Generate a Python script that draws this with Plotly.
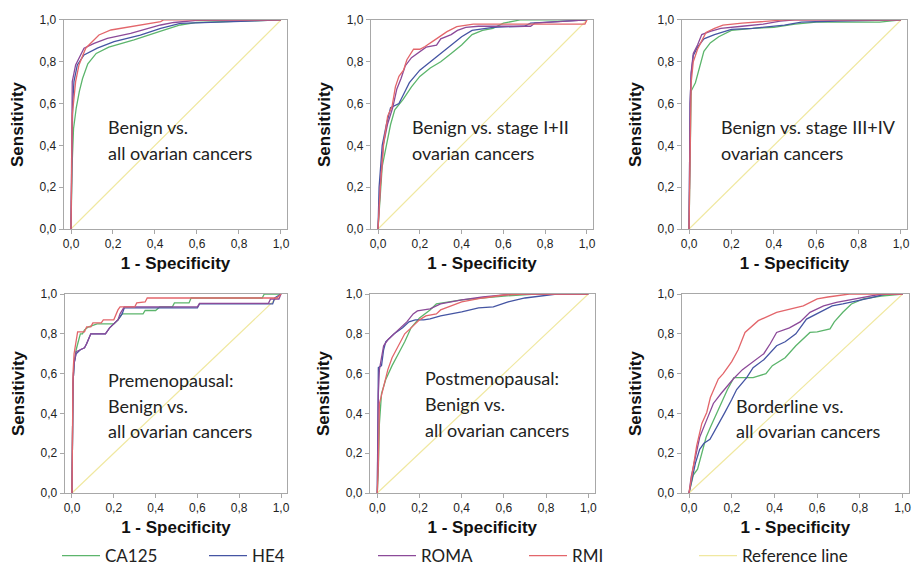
import plotly.graph_objects as go

# ---------------- data ----------------
SERIES = ["CA125", "HE4", "ROMA", "RMI"]
COLORS = {"CA125": "#5cb56c", "HE4": "#4555a3", "ROMA": "#8c4a99", "RMI": "#e3666b"}
REF_COLOR = "#f0e8a0"
REF_X = [0, 1]
REF_Y = [0, 1]
TICK_VALS = [0, 0.2, 0.4, 0.6, 0.8, 1.0]
TICK_TEXT = ["0,0", "0,2", "0,4", "0,6", "0,8", "1,0"]

PANEL_TEXT = [
    ["Benign vs.", "all ovarian cancers"],
    ["Benign vs. stage I+II", "ovarian cancers"],
    ["Benign vs. stage III+IV", "ovarian cancers"],
    ["Premenopausal:", "Benign vs.", "all ovarian cancers"],
    ["Postmenopausal:", "Benign vs.", "all ovarian cancers"],
    ["Borderline vs.", "all ovarian cancers"],
]

# Panel 1: Benign vs. all ovarian cancers
p1_ca125_x = [0, 0.005, 0.012, 0.025, 0.04, 0.055, 0.08, 0.12, 0.18, 0.3, 0.42, 0.52, 0.6, 0.8, 1.0]
p1_ca125_y = [0, 0.3, 0.48, 0.58, 0.66, 0.72, 0.79, 0.84, 0.87, 0.905, 0.944, 0.976, 0.988, 0.995, 1.0]
p1_he4_x = [0, 0.004, 0.008, 0.014, 0.03, 0.062, 0.125, 0.205, 0.33, 0.427, 0.52, 0.7, 1.0]
p1_he4_y = [0, 0.4, 0.6, 0.705, 0.785, 0.833, 0.865, 0.896, 0.928, 0.96, 0.984, 0.99, 1.0]
p1_roma_x = [0, 0.004, 0.006, 0.022, 0.062, 0.11, 0.173, 0.284, 0.364, 0.427, 0.49, 0.6, 1.0]
p1_roma_y = [0, 0.45, 0.705, 0.785, 0.865, 0.888, 0.912, 0.936, 0.96, 0.976, 0.988, 0.998, 1.0]
p1_rmi_x = [0, 0.005, 0.006, 0.022, 0.038, 0.07, 0.1, 0.133, 0.19, 0.284, 0.364, 0.427, 0.44, 1.0]
p1_rmi_y = [0, 0.3, 0.545, 0.705, 0.785, 0.865, 0.896, 0.928, 0.952, 0.968, 0.984, 0.992, 1.0, 1.0]

# Panel 2: Benign vs. stage I+II
p2_ca125_x = [0, 0.01, 0.02, 0.04, 0.06, 0.08, 0.12, 0.16, 0.2, 0.25, 0.3, 0.35, 0.4, 0.45, 0.5, 0.55, 0.6, 0.68, 1.0]
p2_ca125_y = [0, 0.15, 0.3, 0.4, 0.5, 0.57, 0.62, 0.68, 0.73, 0.77, 0.8, 0.84, 0.88, 0.93, 0.95, 0.96, 0.985, 1.0, 1.0]
p2_he4_x = [0, 0.005, 0.02, 0.04, 0.06, 0.1, 0.12, 0.15, 0.2, 0.25, 0.3, 0.35, 0.4, 0.45, 0.55, 0.7, 0.73, 1.0]
p2_he4_y = [0, 0.2, 0.4, 0.5, 0.58, 0.6, 0.64, 0.7, 0.76, 0.8, 0.84, 0.88, 0.92, 0.95, 0.965, 0.97, 0.985, 1.0]
p2_roma_x = [0, 0.01, 0.025, 0.045, 0.07, 0.09, 0.11, 0.13, 0.16, 0.2, 0.23, 0.28, 0.3, 0.35, 0.38, 0.42, 0.48, 0.73, 0.75, 1.0]
p2_roma_y = [0, 0.2, 0.4, 0.5, 0.58, 0.67, 0.72, 0.78, 0.82, 0.85, 0.87, 0.88, 0.91, 0.93, 0.95, 0.965, 0.97, 0.97, 0.985, 1.0]
p2_rmi_x = [0, 0.011, 0.027, 0.046, 0.067, 0.083, 0.1, 0.122, 0.138, 0.17, 0.2, 0.225, 0.265, 0.297, 0.33, 0.377, 0.456, 0.99, 1.0]
p2_rmi_y = [0, 0.2, 0.41, 0.54, 0.586, 0.68, 0.73, 0.76, 0.81, 0.86, 0.86, 0.873, 0.9, 0.92, 0.944, 0.968, 0.98, 0.98, 1.0]

# Panel 3: Benign vs. stage III+IV
p3_ca125_x = [0, 0.005, 0.01, 0.03, 0.05, 0.07, 0.1, 0.14, 0.2, 0.3, 0.4, 0.5, 0.6, 0.9, 1.0]
p3_ca125_y = [0, 0.5, 0.66, 0.7, 0.78, 0.85, 0.89, 0.92, 0.95, 0.96, 0.965, 0.98, 0.99, 0.99, 1.0]
p3_he4_x = [0, 0.005, 0.01, 0.02, 0.04, 0.07, 0.12, 0.2, 0.3, 0.45, 0.53, 0.7, 1.0]
p3_he4_y = [0, 0.6, 0.74, 0.83, 0.87, 0.91, 0.93, 0.955, 0.96, 0.975, 0.99, 0.995, 1.0]
p3_roma_x = [0, 0.005, 0.01, 0.02, 0.04, 0.06, 0.1, 0.15, 0.25, 0.35, 0.43, 0.5, 1.0]
p3_roma_y = [0, 0.6, 0.75, 0.84, 0.88, 0.93, 0.945, 0.96, 0.97, 0.98, 0.995, 1.0, 1.0]
p3_rmi_x = [0, 0.005, 0.01, 0.02, 0.04, 0.06, 0.08, 0.12, 0.16, 0.25, 0.4, 0.45, 1.0]
p3_rmi_y = [0, 0.5, 0.7, 0.8, 0.86, 0.9, 0.94, 0.96, 0.975, 0.985, 0.995, 1.0, 1.0]

# Panel 4: Premenopausal
p4_ca125_x = [0, 0.005, 0.01, 0.02, 0.03, 0.04, 0.05, 0.06, 0.08, 0.12, 0.2, 0.22, 0.24, 0.34, 0.35, 0.4, 0.42, 0.48, 0.49, 0.56, 0.57, 0.91, 0.92, 1.0]
p4_ca125_y = [0, 0.55, 0.65, 0.72, 0.76, 0.8, 0.8, 0.82, 0.835, 0.85, 0.85, 0.87, 0.9, 0.9, 0.917, 0.917, 0.935, 0.935, 0.955, 0.955, 0.98, 0.98, 1.0, 1.0]
p4_he4_x = [0, 0.005, 0.01, 0.02, 0.04, 0.06, 0.07, 0.08, 0.09, 0.16, 0.18, 0.2, 0.22, 0.24, 0.25, 0.6, 0.61, 0.96, 0.97, 1.0]
p4_he4_y = [0, 0.55, 0.65, 0.7, 0.72, 0.73, 0.75, 0.78, 0.8, 0.8, 0.83, 0.85, 0.87, 0.9, 0.93, 0.93, 0.95, 0.95, 0.98, 1.0]
p4_roma_x = [0, 0.005, 0.01, 0.02, 0.04, 0.06, 0.07, 0.08, 0.09, 0.16, 0.18, 0.2, 0.22, 0.23, 0.25, 0.6, 0.61, 0.94, 0.95, 0.99, 1.0]
p4_roma_y = [0, 0.55, 0.65, 0.71, 0.72, 0.73, 0.75, 0.78, 0.8, 0.8, 0.83, 0.85, 0.87, 0.9, 0.935, 0.935, 0.953, 0.953, 0.975, 0.975, 1.0]
p4_rmi_x = [0, 0.005, 0.01, 0.027, 0.06, 0.07, 0.09, 0.1, 0.14, 0.15, 0.2, 0.21, 0.22, 0.23, 0.3, 0.31, 0.35, 0.36, 0.98, 1.0]
p4_rmi_y = [0, 0.6, 0.7, 0.81, 0.81, 0.835, 0.835, 0.855, 0.855, 0.87, 0.87, 0.9, 0.92, 0.935, 0.935, 0.955, 0.96, 0.98, 0.98, 1.0]

# Panel 5: Postmenopausal
p5_ca125_x = [0, 0.005, 0.01, 0.02, 0.04, 0.07, 0.1, 0.13, 0.16, 0.2, 0.25, 0.28, 0.4, 0.5, 0.6, 0.75, 1.0]
p5_ca125_y = [0, 0.12, 0.35, 0.5, 0.57, 0.64, 0.7, 0.76, 0.83, 0.88, 0.92, 0.95, 0.97, 0.98, 0.99, 1.0, 1.0]
p5_he4_x = [0, 0.005, 0.02, 0.03, 0.04, 0.08, 0.12, 0.15, 0.18, 0.22, 0.25, 0.3, 0.4, 0.48, 0.55, 0.62, 0.7, 0.8, 0.85, 1.0]
p5_he4_y = [0, 0.63, 0.64, 0.72, 0.76, 0.8, 0.83, 0.86, 0.87, 0.87, 0.875, 0.89, 0.91, 0.93, 0.935, 0.96, 0.98, 0.995, 1.0, 1.0]
p5_roma_x = [0, 0.005, 0.01, 0.02, 0.03, 0.05, 0.08, 0.11, 0.14, 0.17, 0.19, 0.25, 0.3, 0.4, 0.5, 0.6, 0.65, 1.0]
p5_roma_y = [0, 0.5, 0.62, 0.68, 0.74, 0.77, 0.8, 0.83, 0.86, 0.9, 0.915, 0.925, 0.95, 0.97, 0.985, 0.995, 1.0, 1.0]
p5_rmi_x = [0, 0.005, 0.01, 0.03, 0.05, 0.07, 0.1, 0.13, 0.17, 0.2, 0.23, 0.28, 0.3, 0.4, 0.5, 0.6, 0.7, 1.0]
p5_rmi_y = [0, 0.15, 0.45, 0.53, 0.62, 0.68, 0.74, 0.8, 0.84, 0.87, 0.89, 0.9, 0.92, 0.96, 0.98, 0.995, 1.0, 1.0]

# Panel 6: Borderline vs. all ovarian cancers
p6_ca125_x = [0, 0.01, 0.02, 0.04, 0.06, 0.08, 0.1, 0.13, 0.16, 0.18, 0.21, 0.25, 0.3, 0.36, 0.39, 0.45, 0.5, 0.566, 0.6, 0.66, 0.68, 0.72, 0.76, 0.816, 0.85, 0.9, 1.0]
p6_ca125_y = [0, 0.04, 0.09, 0.12, 0.2, 0.28, 0.33, 0.4, 0.47, 0.52, 0.58, 0.58, 0.58, 0.6, 0.64, 0.68, 0.74, 0.807, 0.81, 0.825, 0.86, 0.908, 0.95, 0.975, 0.98, 0.99, 1.0]
p6_he4_x = [0, 0.01, 0.03, 0.05, 0.07, 0.098, 0.13, 0.168, 0.2, 0.223, 0.27, 0.3, 0.35, 0.41, 0.45, 0.5, 0.55, 0.6, 0.67, 0.72, 0.85, 0.92, 1.0]
p6_he4_y = [0, 0.05, 0.15, 0.22, 0.25, 0.27, 0.33, 0.405, 0.47, 0.52, 0.58, 0.63, 0.67, 0.74, 0.76, 0.8, 0.874, 0.9, 0.94, 0.95, 0.98, 1.0, 1.0]
p6_roma_x = [0, 0.01, 0.03, 0.05, 0.08, 0.114, 0.15, 0.207, 0.25, 0.3, 0.35, 0.38, 0.41, 0.47, 0.52, 0.566, 0.63, 0.69, 0.8, 0.9, 1.0]
p6_roma_y = [0, 0.08, 0.18, 0.28, 0.36, 0.45, 0.5, 0.573, 0.62, 0.66, 0.7, 0.75, 0.807, 0.83, 0.86, 0.908, 0.94, 0.958, 0.98, 1.0, 1.0]
p6_rmi_x = [0, 0.01, 0.02, 0.036, 0.06, 0.083, 0.1, 0.137, 0.16, 0.2, 0.23, 0.262, 0.324, 0.41, 0.535, 0.6, 0.65, 0.75, 0.9, 1.0]
p6_rmi_y = [0, 0.07, 0.15, 0.238, 0.35, 0.405, 0.48, 0.573, 0.6, 0.66, 0.72, 0.807, 0.866, 0.908, 0.94, 0.975, 0.985, 1.0, 1.0, 1.0]

PANELS = [
    {"CA125": (p1_ca125_x, p1_ca125_y), "HE4": (p1_he4_x, p1_he4_y), "ROMA": (p1_roma_x, p1_roma_y), "RMI": (p1_rmi_x, p1_rmi_y)},
    {"CA125": (p2_ca125_x, p2_ca125_y), "HE4": (p2_he4_x, p2_he4_y), "ROMA": (p2_roma_x, p2_roma_y), "RMI": (p2_rmi_x, p2_rmi_y)},
    {"CA125": (p3_ca125_x, p3_ca125_y), "HE4": (p3_he4_x, p3_he4_y), "ROMA": (p3_roma_x, p3_roma_y), "RMI": (p3_rmi_x, p3_rmi_y)},
    {"CA125": (p4_ca125_x, p4_ca125_y), "HE4": (p4_he4_x, p4_he4_y), "ROMA": (p4_roma_x, p4_roma_y), "RMI": (p4_rmi_x, p4_rmi_y)},
    {"CA125": (p5_ca125_x, p5_ca125_y), "HE4": (p5_he4_x, p5_he4_y), "ROMA": (p5_roma_x, p5_roma_y), "RMI": (p5_rmi_x, p5_rmi_y)},
    {"CA125": (p6_ca125_x, p6_ca125_y), "HE4": (p6_he4_x, p6_he4_y), "ROMA": (p6_roma_x, p6_roma_y), "RMI": (p6_rmi_x, p6_rmi_y)},
]

# ---------------- layout geometry ----------------
W, H = 912, 569
X_DOMAINS = [(0.0698, 0.3150), (0.4065, 0.6505), (0.7474, 0.9949),
             (0.0709, 0.3150), (0.4056, 0.6520), (0.7473, 0.9968)]
Y_DOMAINS = [(0.5975, 0.9649)] * 3 + [(0.1335, 0.4833)] * 3
X_RANGE = [-0.035, 1.03]
TEXT_X = [0.167, 0.153, 0.142, 0.163, 0.217, 0.21]
TEXT_Y = [[0.488, 0.364], [0.488, 0.364], [0.488, 0.364],
          [0.568, 0.437, 0.312], [0.578, 0.447, 0.317], [0.437, 0.312]]
LEGEND_X_PX = [57, 204, 373, 524, 694]

TICK_FONT = dict(family="Liberation Sans, Arial, sans-serif", size=12, color="#222222")
TITLE_FONT = dict(family="Liberation Sans, Arial, sans-serif", size=17, color="#111111", weight="bold")
TEXT_FONT = dict(family="Lato, Carlito, sans-serif", size=18, color="#222222")
AXIS_LINE = "#a8a8a8"

fig = go.Figure()

for i, panel in enumerate(PANELS):
    ax = "" if i == 0 else str(i + 1)
    xref, yref = "x" + ax, "y" + ax
    # reference line
    fig.add_trace(go.Scatter(
        x=REF_X, y=REF_Y, mode="lines", name="Reference line",
        line=dict(color=REF_COLOR, width=1.2), xaxis=xref, yaxis=yref,
        showlegend=(i == 0), legend="legend5", hoverinfo="skip"))
    for k, s in enumerate(SERIES):
        xs, ys = panel[s]
        fig.add_trace(go.Scatter(
            x=xs, y=ys, mode="lines", name=s,
            line=dict(color=COLORS[s], width=1.3), xaxis=xref, yaxis=yref,
            showlegend=(i == 0), legend=("legend" if k == 0 else "legend" + str(k + 1))))

    common = dict(showline=True, mirror=True, linecolor=AXIS_LINE, linewidth=1,
                  ticks="outside", ticklen=4, tickcolor=AXIS_LINE, tickwidth=1,
                  showgrid=False, zeroline=False, tickvals=TICK_VALS, ticktext=TICK_TEXT,
                  tickfont=TICK_FONT, fixedrange=True, automargin=False)
    fig.layout["xaxis" + ax] = dict(
        common, domain=list(X_DOMAINS[i]), range=X_RANGE, anchor=yref,
        title=dict(text="1 - Specificity", font=TITLE_FONT, standoff=6))
    fig.layout["yaxis" + ax] = dict(
        common, domain=list(Y_DOMAINS[i]), range=[0, 1], anchor=xref,
        title=dict(text="Sensitivity", font=TITLE_FONT, standoff=11))

    for line_text, ty in zip(PANEL_TEXT[i], TEXT_Y[i]):
        fig.add_annotation(text=line_text, x=TEXT_X[i], y=ty, xref=xref, yref=yref,
                           xanchor="left", yanchor="middle", showarrow=False,
                           font=TEXT_FONT)

legend_common = dict(orientation="h", yanchor="middle", y=13 / H, xanchor="left",
                     font=dict(family="Lato, Carlito, sans-serif", size=17, color="#222222"),
                     bgcolor="rgba(0,0,0,0)", borderwidth=0, itemwidth=38)
fig.update_layout(
    width=W, height=H,
    margin=dict(l=0, r=0, t=0, b=0, autoexpand=False),
    paper_bgcolor="white", plot_bgcolor="white",
    legend=dict(legend_common, x=LEGEND_X_PX[0] / W),
    legend2=dict(legend_common, x=LEGEND_X_PX[1] / W),
    legend3=dict(legend_common, x=LEGEND_X_PX[2] / W),
    legend4=dict(legend_common, x=LEGEND_X_PX[3] / W),
    legend5=dict(legend_common, x=LEGEND_X_PX[4] / W),
)

fig.write_html("out.html", config={"displayModeBar": False},
               post_script="document.body.style.margin='0';document.body.style.overflow='hidden';")
